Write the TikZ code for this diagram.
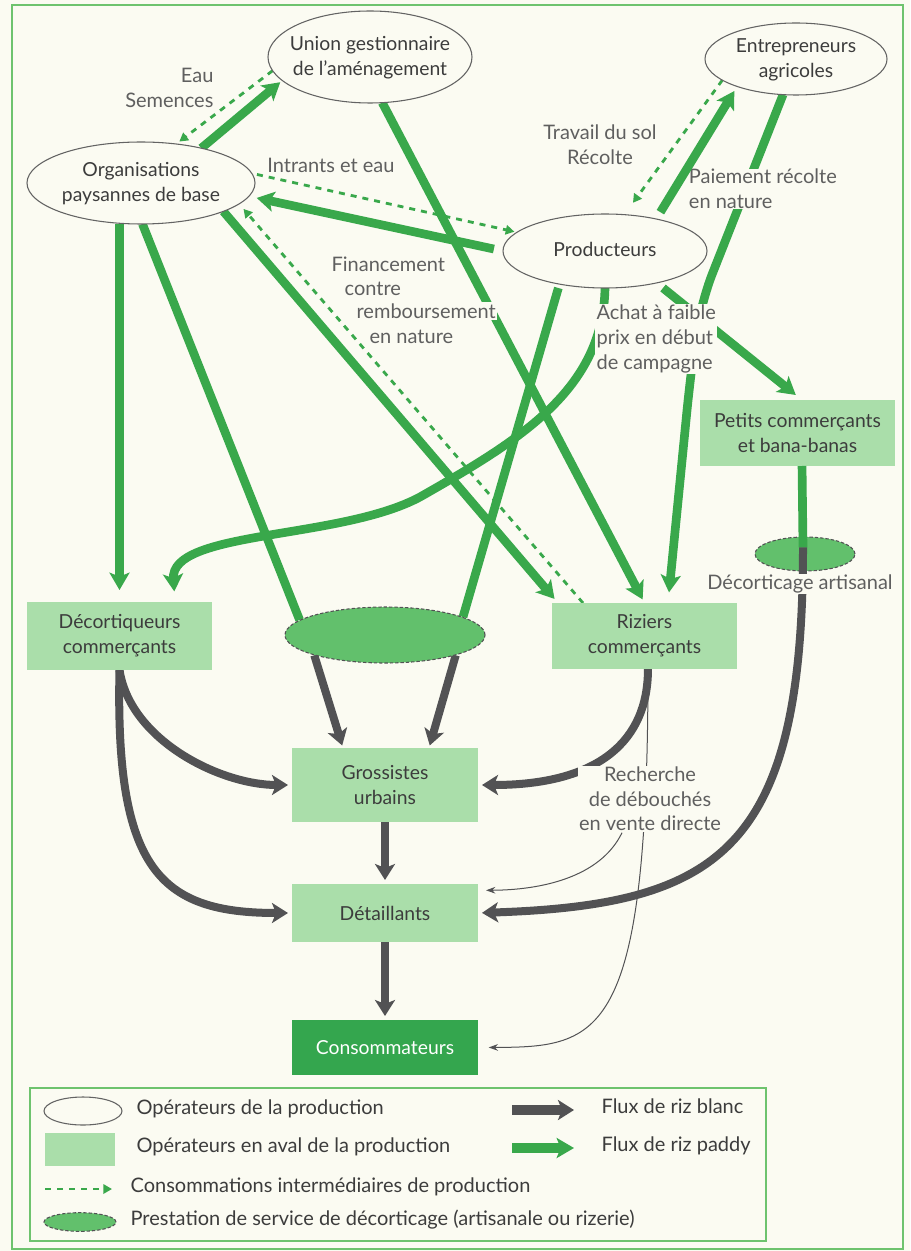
\documentclass[tikz,border=0pt]{standalone}
\usepackage{fontspec}
\setmainfont{Lato}
\usetikzlibrary{arrows.meta,shapes.geometric}
\definecolor{bgc}{RGB}{251,251,242}
\definecolor{paddy}{RGB}{57,168,75}
\definecolor{lgreen}{RGB}{170,222,170}
\definecolor{dgreen}{RGB}{52,166,78}
\definecolor{flowgray}{RGB}{82,82,84}
\definecolor{framegreen}{RGB}{110,195,110}
\definecolor{ndtxt}{RGB}{60,60,60}
\definecolor{lbtxt}{RGB}{95,95,95}
\definecolor{decgreen}{RGB}{98,192,108}
\newcommand{\ndfont}{\fontsize{14.5}{18.75}\selectfont}
\newcommand{\lbfont}{\fontsize{15}{18.5}\selectfont}
\newcommand{\ztext}[1]{\makebox[0pt]{\raisebox{-0.3em}[0pt][0pt]{\begin{tabular}{@{}c@{}}#1\end{tabular}}}}
\pgfdeclarelayer{back}
\pgfdeclarelayer{edges}
\pgfsetlayers{back,edges,main}
\tikzset{
  prodop/.style={ellipse, draw=ndtxt!80, line width=0.8pt, fill=bgc, inner sep=0pt, outer sep=0pt, text=ndtxt, font=\ndfont},
  aval/.style={rectangle, fill=lgreen, inner sep=0pt, outer sep=0pt, align=center, text=ndtxt, font=\ndfont},
  decell/.style={ellipse, fill=decgreen, draw=flowgray, dash pattern=on 2.5pt off 1.5pt, line width=0.8pt, inner sep=0pt},
  paddyflow/.style={draw=paddy, line width=6.5pt, -{Stealth[length=13pt,width=15pt,inset=3pt]}},
  paddyline/.style={draw=paddy, line width=6.5pt},
  blancflow/.style={draw=flowgray, line width=6pt, -{Stealth[length=12pt,width=15pt,inset=3pt]}},
  blancline/.style={draw=flowgray, line width=6pt},
  interflow/.style={draw=paddy, line width=2.1pt, dash pattern=on 4.5pt off 4.5pt, -{Triangle[length=6.5pt,width=7pt]}},
  thinflow/.style={draw=flowgray, line width=0.75pt, -{Stealth[length=7pt,width=5pt]}},
  lbl/.style={text=lbtxt, font=\lbfont, inner sep=1pt},
  lgtxt/.style={text=ndtxt, font=\lbfont, inner sep=1pt, anchor=mid west},
}
\begin{document}
\begin{tikzpicture}[x=0.75pt,y=-0.75pt]
\begin{pgfonlayer}{back}
\fill[bgc] (0,0) rectangle (910,1251);
\draw[framegreen, line width=1.5pt] (12,5) rectangle (903,1249);
\end{pgfonlayer}
\path[use as bounding box] (0,0) rectangle (910,1251);

% ---------- nodes ----------
\node[prodop, minimum width=153pt, minimum height=69pt] (union) at (370,57) {\ztext{Union gestionnaire\\de l’aménagement}};
\node[prodop, minimum width=136.5pt, minimum height=54pt] (entre) at (796,59) {\ztext{Entrepreneurs\\agricoles}};
\node[prodop, minimum width=171pt, minimum height=61.5pt] (org) at (141,183) {\ztext{Organisations\\paysannes de base}};
\node[prodop, minimum width=153pt, minimum height=55.5pt] (prod) at (605,251) {\ztext{Producteurs}};
\node[aval, minimum width=146.25pt, minimum height=49.5pt] (petits) at (797.5,433) {Petits commerçants\\et bana-banas};
\node[aval, minimum width=138.75pt, minimum height=51pt] (decort) at (119.5,636) {Décortiqueurs\\commerçants};
\node[decell, minimum width=150pt, minimum height=42pt] (mid) at (385,635) {};
\node[aval, minimum width=138.75pt, minimum height=49.5pt] (riz) at (644.5,636) {Riziers\\commerçants};
\node[decell, minimum width=75pt, minimum height=25.5pt] (small) at (805,554) {};
\node[aval, minimum width=139.5pt, minimum height=55.5pt] (gross) at (385,785) {Grossistes\\urbains};
\node[aval, minimum width=139.5pt, minimum height=43.5pt] (detail) at (385,913) {Détaillants};
\node[aval, fill=dgreen, text=white, minimum width=139.5pt, minimum height=41.25pt] (conso) at (385,1047.5) {Consommateurs};

% ---------- labels ----------
\node[lbl, align=right, anchor=east] (lEau) at (215,88) {Eau\\Semences};
\node[lbl] (lIntr) at (331,165) {Intrants et eau};
\node[lbl, align=center] (lTrav) at (600,145) {Travail du sol\\Récolte};
\node[lbl, align=left, anchor=west, fill=bgc, inner sep=0.5pt] (lPaie) at (688,189) {Paiement récolte\\en nature};
\node[lbl, anchor=mid west] (lFin1) at (330,268) {Financement};
\node[lbl, anchor=mid west] (lFin2) at (343,292) {contre};
\node[lbl, anchor=mid west, fill=bgc] (lFin3) at (355,315) {remboursement};
\node[lbl, anchor=mid west] (lFin4) at (368,340) {en nature};
\node[lbl, align=left, anchor=west, fill=bgc] (lAchat) at (595,339) {Achat à faible\\prix en début\\de campagne};
\node[lbl, align=center, fill=bgc] (rech) at (650,799) {Recherche\\de débouchés\\en vente directe};

% ---------- connectors under the nodes ----------
\begin{pgfonlayer}{edges}
% paddy flows
\draw[paddyflow, shorten >=2pt] (org.30) -- (union.195);
\draw[paddyflow, shorten <=7pt, shorten >=6pt] (prod.180) -- (org.-7);
\draw[paddyflow, rounded corners=25pt, shorten >=8pt] (entre.250) -- (700,305) -- (690,380) -- ([xshift=17.6pt]riz.north);
\draw[paddyflow, shorten >=9pt] (org.south -| decort.north) -- (decort.north);
\draw[paddyline] (org.-88) -- (mid.170);
\draw[paddyflow, shorten >=4pt] (org.-19) -- ([xshift=4.5pt]riz.north west);
\draw[paddyflow, shorten >=3pt] (union.-75) -- (riz.north);
\draw[paddyline] ([xshift=-35pt]prod.south) -- (mid.13);
\draw[paddyflow, shorten >=8pt] (prod.south) .. controls (603,390) and (520,440) .. (420,497)
   .. controls (340,540) and (170,530) .. ([xshift=41.6pt]decort.north);
\draw[paddyflow, shorten >=6pt] ([xshift=43.5pt]prod.south) -- ([xshift=3.4pt]petits.north);
% white rice flows
\draw[blancflow, shorten >=2pt] (mid.196) -- ([xshift=-31.5pt]gross.north);
\draw[blancflow, shorten >=2pt] (mid.-16) -- ([xshift=33pt]gross.north);
\draw[blancflow, shorten >=3pt] (decort.south) .. controls (130,740) and (220,785) .. (gross.west);
\draw[blancflow, shorten >=3pt] (decort.south) .. controls (115,870) and (160,913) .. (detail.west);
\draw[blancflow, shorten >=3pt] ([xshift=2.6pt]riz.south) .. controls (648,740) and (600,785) .. (gross.east);
\draw[blancflow, shorten >=3pt] (gross.south) -- (detail.north);
\draw[blancflow, shorten >=3pt] (detail.south) -- (conso.north);
% thin lines
\draw[thinflow, shorten >=8pt] ([xshift=2.6pt]riz.south) .. controls (648,1040) and (600,1047) .. (conso.east);
\draw[thinflow, shorten >=6pt] ([xshift=-21pt]rech.south) .. controls (600,878) and (540,890) .. ([yshift=17pt]detail.east);
% intermediate consumptions
\draw[interflow, shorten >=3pt] (union.188) -- (org.48);
\draw[interflow, shorten <=4pt, shorten >=2pt] (org.5) -- (prod.168);
\draw[interflow, shorten >=11pt] (entre.196) -- (prod.62);
\draw[interflow, shorten >=5pt] ([xshift=23.25pt]riz.north west) -- (org.-12);
\end{pgfonlayer}

% ---------- connectors above ----------
\draw[paddyflow, shorten <=6pt, shorten >=4pt] (prod.32) -- (entre.205);
\draw[paddyline] ([xshift=3.4pt]petits.south) -- ([xshift=-1.5pt,yshift=5pt]small.center);
\draw[blancflow, shorten >=3pt] ([xshift=-1.5pt,yshift=5pt]small.center) .. controls (803,850) and (720,905) .. (detail.east);
\node[lbl, fill=bgc, inner sep=0.5pt] (lDecart) at (800,584) {Décorticage artisanal};

% ---------- legend ----------
\draw[framegreen, line width=1pt] (30,1088) rectangle (766,1241);
\node[prodop, minimum width=58.5pt, minimum height=21pt] (lgell) at (83,1111) {};
\node[aval, minimum width=52.5pt, minimum height=24.75pt] (lgrect) at (80,1149) {};
\coordinate (lgd1) at (45,1189);
\coordinate (lgd2) at (112,1189);
\draw[interflow] (lgd1) -- (lgd2);
\node[decell, minimum width=54pt, minimum height=14pt] (lgdec) at (80,1222) {};
\node[lgtxt] (lt1) at (135,1111) {Opérateurs de la production};
\node[lgtxt] (lt2) at (135,1149) {Opérateurs en aval de la production};
\node[lgtxt] (lt3) at (129,1189) {Consommations intermédiaires de production};
\node[lgtxt] (lt4) at (129,1222) {Prestation de service de décorticage (artisanale ou rizerie)};
\coordinate (lga1) at (512,1110);
\coordinate (lga2) at (574,1110);
\coordinate (lgp1) at (512,1148);
\coordinate (lgp2) at (574,1148);
\draw[blancflow, line width=7pt] (lga1) -- (lga2);
\draw[paddyflow, line width=7pt] (lgp1) -- (lgp2);
\node[lgtxt] (lt5) at (600,1110) {Flux de riz blanc};
\node[lgtxt] (lt6) at (600,1148) {Flux de riz paddy};
\end{tikzpicture}
\end{document}
